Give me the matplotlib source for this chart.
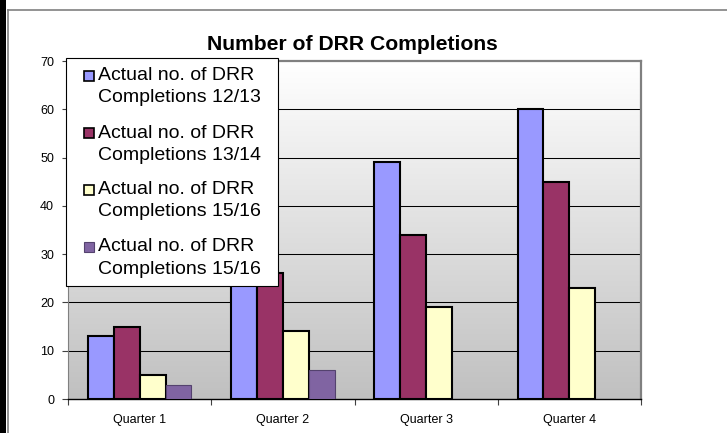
import numpy as np
import matplotlib
matplotlib.use("Agg")
import matplotlib.pyplot as plt
from matplotlib.patches import Rectangle
from matplotlib.lines import Line2D
from matplotlib.colors import LinearSegmentedColormap

plt.rcParams['font.family'] = ['Liberation Sans', 'DejaVu Sans']

# ---- data ----
title = "Number of DRR Completions"
categories = ["Quarter 1", "Quarter 2", "Quarter 3", "Quarter 4"]
series_labels = [
    "Actual no. of DRR\nCompletions 12/13",
    "Actual no. of DRR\nCompletions 13/14",
    "Actual no. of DRR\nCompletions 15/16",
    "Actual no. of DRR\nCompletions 15/16",
]
s1 = [13, 30, 49, 60]
s2 = [15, 26, 34, 45]
s3 = [5, 14, 19, 23]
s4 = [3, 6, np.nan, np.nan]
series = [s1, s2, s3, s4]
colors = ["#9999FF", "#993366", "#FFFFCC", "#8064A2"]
edges = ["black", "black", "black", "#54426e"]
edge_lw = [1.5, 1.5, 1.5, 0.8]
yticks = [0, 10, 20, 30, 40, 50, 60, 70]

W, H = 727, 433
fig = plt.figure(figsize=(W / 100, H / 100), dpi=100)
fig.patch.set_facecolor("white")

def fx(x):
    return x / W

def fy(y):
    return 1 - y / H

# plot area in pixels
L, R, T, B = 68, 641, 61, 399
ax = fig.add_axes([fx(L), fy(B), fx(R) - fx(L), fy(T) - fy(B)])

# gradient background (white at top, grey at bottom)
cmap = LinearSegmentedColormap.from_list("g", ["#c0c0c0", "#ffffff"])
ax.imshow(np.linspace(0.0, 1.0, 256).reshape(-1, 1), extent=[-0.5, 3.5, 0, 70],
          aspect="auto", cmap=cmap, origin="lower", zorder=0, vmin=0, vmax=1)

x = np.arange(len(categories))
bw = 0.181
offs = (np.arange(4) - 1.5) * bw
for i, s in enumerate(series):
    ax.bar(x + offs[i], s, width=bw, color=colors[i], edgecolor=edges[i],
           linewidth=edge_lw[i], zorder=3)

ax.set_xlim(-0.5, 3.5)
ax.set_ylim(0, 70)
ax.set_yticks(yticks)
ax.set_yticklabels([str(v) for v in yticks], fontsize=9)
for v in yticks[1:-1]:
    ax.axhline(v, color="black", lw=0.75, zorder=1)

ax.set_xticks(x)
ax.set_xticklabels(categories, fontsize=9)
ax.tick_params(axis="x", which="major", length=0, pad=11)
ax.set_xticks(np.arange(-0.5, 4.0, 1.0), minor=True)
ax.tick_params(axis="x", which="minor", length=4, width=0.8, color="#404040", direction="out")
ax.tick_params(axis="y", length=4, width=0.8, color="#404040", pad=6)

ax.spines["top"].set_color("#808080")
ax.spines["top"].set_linewidth(1.6)
ax.spines["right"].set_color("#808080")
ax.spines["right"].set_linewidth(1.6)
ax.spines["left"].set_color("#808080")
ax.spines["left"].set_linewidth(0.8)
ax.spines["bottom"].set_color("black")
ax.spines["bottom"].set_linewidth(1.0)

# title
fig.text(fx(352), fy(45), title, ha="center", va="center", fontsize=15.2,
         fontweight="bold")

# outer frame bits
fig.add_artist(Rectangle((0, 0), fx(6), 1, transform=fig.transFigure,
                         facecolor="black", edgecolor="none", zorder=5))
fig.add_artist(Line2D([fx(7.5), fx(7.5)], [0, fy(10)], transform=fig.transFigure,
                      color="#808080", lw=1.2, zorder=5))
fig.add_artist(Line2D([fx(7.5), 1], [fy(10), fy(10)], transform=fig.transFigure,
                      color="#808080", lw=1.2, zorder=5))

# legend (manual, to match the two-line layout)
lx0, ly0, lx1, ly1 = 66, 58, 278, 286
fig.add_artist(Rectangle((fx(lx0), fy(ly1)), fx(lx1) - fx(lx0), fy(ly0) - fy(ly1),
                         transform=fig.transFigure, facecolor="white",
                         edgecolor="black", lw=0.8, zorder=10))
for i, lab in enumerate(series_labels):
    yc = 76 + 57 * i
    fig.add_artist(Rectangle((fx(84), fy(yc + 5)), fx(10), 10 / H,
                             transform=fig.transFigure, facecolor=colors[i],
                             edgecolor=edges[i], lw=1.2 if i < 3 else 0.8, zorder=11))
    l1, l2 = lab.split("\n")
    fig.text(fx(98), fy(yc), l1, ha="left", va="center", fontsize=14, zorder=12)
    fig.text(fx(98), fy(yc + 22), l2, ha="left", va="center", fontsize=14, zorder=12)

fig.savefig("out.png", dpi=100)
